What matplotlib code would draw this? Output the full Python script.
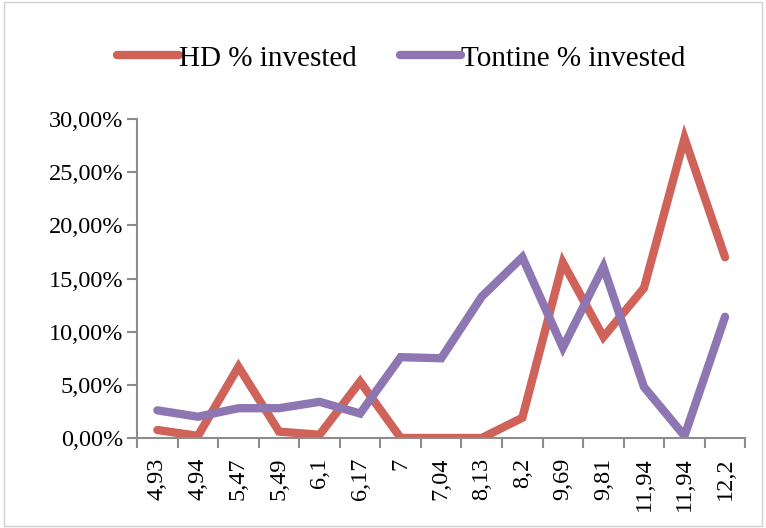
import matplotlib
matplotlib.use("Agg")
from matplotlib import pyplot as plt
from matplotlib.ticker import FuncFormatter, FixedLocator
import numpy as np

plt.rcParams['font.family'] = ['Liberation Serif', 'DejaVu Serif']

categories = ['4,93', '4,94', '5,47', '5,49', '6,1', '6,17', '7', '7,04',
              '8,13', '8,2', '9,69', '9,81', '11,94', '11,94', '12,2']
hd_invested = [0.75, 0.2, 6.7, 0.6, 0.3, 5.3, 0.0, 0.0,
               0.0, 1.9, 16.5, 9.5, 14.1, 28.2, 17.0]
tontine_invested = [2.6, 2.0, 2.8, 2.8, 3.4, 2.3, 7.6, 7.5,
                    13.3, 17.0, 8.5, 16.1, 4.8, 0.2, 11.4]

fig = plt.figure(figsize=(7.66, 5.28), dpi=100)
ax = fig.add_axes([0.179, 0.1705, 0.794, 0.604])

x = np.arange(len(categories))
ax.plot(x, np.array(hd_invested) / 100, color='#CF6259', lw=6,
        solid_capstyle='round', solid_joinstyle='miter', label='HD % invested')
ax.plot(x, np.array(tontine_invested) / 100, color='#8E76B2', lw=6,
        solid_capstyle='round', solid_joinstyle='miter', label='Tontine % invested')

ax.set_xlim(-0.5, len(categories) - 0.5)
ax.set_ylim(0, 0.30)
ax.set_yticks(np.arange(0, 0.301, 0.05))
ax.yaxis.set_major_formatter(FuncFormatter(lambda v, p: f'{v*100:.2f}%'.replace('.', ',')))

ax.set_xticks(x)
ax.set_xticklabels(categories, rotation=90)
ax.xaxis.set_minor_locator(FixedLocator(np.arange(-0.5, len(categories), 1)))
ax.tick_params(axis='x', which='major', length=0, pad=14, labelsize=17.5)
ax.tick_params(axis='x', which='minor', length=7, width=1.5, color='#8c8c8c', direction='out')
ax.tick_params(axis='y', length=7, width=1.5, color='#8c8c8c', labelsize=17.5, pad=3)

for s in ['top', 'right']:
    ax.spines[s].set_visible(False)
for s in ['left', 'bottom']:
    ax.spines[s].set_color('#8c8c8c')
    ax.spines[s].set_linewidth(1.5)

ax.legend(loc='center', bbox_to_anchor=(0.435, 1.19), ncol=2, frameon=False,
          fontsize=21, handlelength=2.1, handletextpad=0.0, columnspacing=1.5)

fig.patches.append(plt.Rectangle((0.005, 0.003), 0.99, 0.994, transform=fig.transFigure,
                                 fill=False, edgecolor='#d0d0d0', lw=1))

plt.savefig('out.png', dpi=100)
